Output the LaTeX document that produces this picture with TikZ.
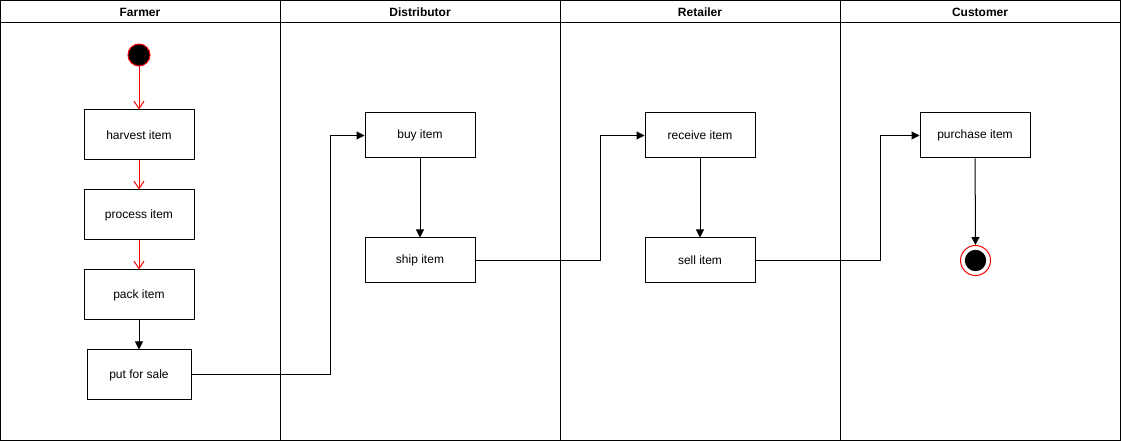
\documentclass[tikz,border=0pt]{standalone}
\usepackage{fontspec}
\setmainfont{Liberation Sans}
\usetikzlibrary{arrows.meta}
\begin{document}
\begin{tikzpicture}[x=0.75pt,y=-0.75pt,line width=0.75pt,
  act/.style={draw=black,fill=white,minimum width=82.5pt,minimum height=37.5pt,inner sep=0pt,font=\fontsize{9}{11}\selectfont},
  lanehead/.style={font=\bfseries\fontsize{9}{11}\selectfont},
  redflow/.style={draw=red,-{Straight Barb[length=5.5pt,width=7.5pt,line width=0.75pt]}},
  flow/.style={draw=black,-{Triangle[length=6pt,width=6pt]}},
  startn/.style={circle,draw=red,fill=black,minimum size=16.5pt,inner sep=0pt},
  endn/.style={circle,draw=red,fill=white,minimum size=22.5pt,inner sep=0pt,
    path picture={\fill[black] (path picture bounding box.center) circle (8pt);}}]
\useasboundingbox (0,0) rectangle (1121,441);
% lanes
\draw[black] (0.5,0.5) rectangle (1120.5,440.5);
\draw[black] (0.5,23) -- (1120.5,23);
\foreach \x in {280,560,840} \draw[black] (\x,0.5) -- (\x,440.5);
\node[lanehead] (h1) at (140,12) {Farmer};
\node[lanehead] (h2) at (420,12) {Distributor};
\node[lanehead] (h3) at (700,12) {Retailer};
\node[lanehead] (h4) at (980,12) {Customer};
% farmer
\node[startn] (start) at (139,55) {};
\node[act] (harvest) at (139,135) {harvest item};
\node[act] (process) at (139,215) {process item};
\node[act] (pack) at (139,295) {pack item};
\node[act,minimum width=78pt] (put) at (139,375) {put for sale};
% distributor
\node[act,minimum height=33.75pt] (buy) at (420,135.5) {buy item};
\node[act,minimum height=33.75pt] (ship) at (420,260.5) {ship item};
% retailer
\node[act,minimum height=33.75pt] (receive) at (700,135.5) {receive item};
\node[act,minimum height=33.75pt] (sell) at (700,260.5) {sell item};
% customer
\node[act,minimum height=33.75pt] (purchase) at (975,135.5) {purchase item};
\node[endn] (end) at (975.5,260.5) {};
% flows
\draw[redflow] (start) -- (harvest);
\draw[redflow] (harvest) -- (process);
\draw[redflow] (process) -- (pack);
\draw[flow] (pack) -- (put);
\draw[flow] (put.east) -- ++(139,0) |- (buy.west);
\draw[flow] (buy) -- (ship);
\draw[flow] (ship.east) -- ++(125,0) |- (receive.west);
\draw[flow] (receive) -- (sell);
\draw[flow] (sell.east) -- ++(125,0) |- (purchase.west);
\draw[flow] (purchase) -- (end);
\end{tikzpicture}
\end{document}
